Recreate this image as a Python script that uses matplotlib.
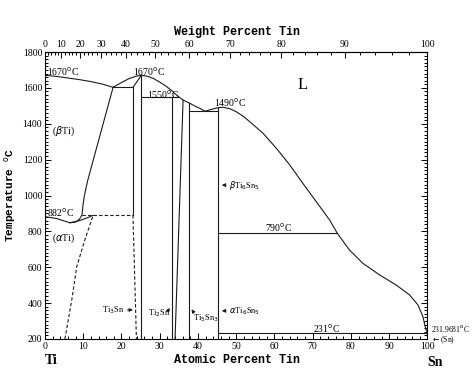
import numpy as np
import matplotlib
matplotlib.use('Agg')
import matplotlib.pyplot as plt

# Ti-Sn phase diagram, atomic percent Sn vs temperature (C)
liq_left_x = [0, 3, 6, 9, 12, 15, 17.8]
liq_left_T = [1670, 1664, 1655, 1646, 1635, 1621, 1603]

liq_x = [17.8, 20, 22, 24, 25.2, 26.8, 28.3, 30, 31.8, 33.2, 34.4, 36.1, 37.9, 39.2, 40.5,
         41.8, 43.5, 45.3, 46.5, 48.3, 50.0, 51.8, 53.5, 57.0, 60.5, 64.0, 67.4, 70.9,
         74.4, 76.4, 79.6, 83.1, 87.5, 91.8, 95.3, 97.5, 98.8, 99.5, 100]
liq_T = [1603, 1630, 1652, 1666, 1670, 1665, 1653, 1632, 1607, 1583, 1560, 1532, 1514, 1498,
         1486, 1470, 1480, 1490, 1492, 1484, 1467, 1442, 1412, 1347, 1263, 1170, 1068, 966,
         864, 790, 696, 622, 557, 501, 446, 390, 325, 260, 232]

beta_x = [0, 3, 5, 6.5, 8, 9, 9.7, 9.9, 10.3, 11.2, 17.8]
beta_T = [882, 872, 858, 848, 852, 868, 893, 940, 1000, 1087, 1603]

alpha_x = [6.5, 9, 11, 12.6]
alpha_T = [848, 860, 875, 890]

alpha_dash_x = [5.2, 7.0, 8.3, 10.4, 12.6]
alpha_dash_T = [200, 418, 603, 752, 890]

ti3sn_x = [23.0, 25.2]
ti2sn_left = 33.2
ti2sn_right_x = [36.1, 34.0]
ti2sn_right_T = [1532, 200]
ti5sn3_x = 37.7
ti6sn5_x = 45.3

T_peri1 = 1603
T_eutd = 890
T_peri2 = 1550
T_eut = 1470
T_top65 = 1490
T_790 = 790
T_231 = 231

wt_ticks = np.arange(0, 101, 10)

M_SN = 118.71
M_TI = 47.867


def at2wt(a):
    a = np.asarray(a, dtype=float)
    return 100 * a * M_SN / (a * M_SN + (100 - a) * M_TI)


def wt2at(w):
    w = np.asarray(w, dtype=float)
    return 100 * (w / M_SN) / (w / M_SN + (100 - w) / M_TI)


lc = '#1a1a1a'
lw = 0.8
serif = 'Liberation Serif'
mono = 'Liberation Mono'

fig = plt.figure(figsize=(4.74, 3.72), dpi=100)
ax = fig.add_axes([45/474, 1 - 339/372, 382.5/474, 287/372])

# liquidus
ax.plot(liq_left_x, liq_left_T, color=lc, lw=lw)
ax.plot(liq_x, liq_T, color=lc, lw=lw)

# beta / alpha Ti boundaries
ax.plot(beta_x, beta_T, color=lc, lw=lw)
ax.plot(alpha_x, alpha_T, color=lc, lw=lw)
ax.plot(alpha_dash_x, alpha_dash_T, color=lc, lw=lw, ls=(0, (3, 2)))

# Ti3Sn
ax.plot([liq_left_x[-1], ti3sn_x[0]], [T_peri1, T_peri1], color=lc, lw=lw)
ax.plot([ti3sn_x[0], ti3sn_x[1]], [T_peri1, 1670], color=lc, lw=lw)
ax.plot([ti3sn_x[0], ti3sn_x[0]], [T_peri1, T_eutd], color=lc, lw=lw)
ax.plot([9.7, ti3sn_x[0]], [T_eutd, T_eutd], color=lc, lw=lw, ls=(0, (3, 2)))
ax.plot([ti3sn_x[0], 23.9], [T_eutd, 200], color=lc, lw=lw, ls=(0, (3, 2)))
ax.plot([ti3sn_x[1], ti3sn_x[1]], [1670, 200], color=lc, lw=lw)

# Ti2Sn
ax.plot([ti3sn_x[1], 34.9], [T_peri2, T_peri2], color=lc, lw=lw)
ax.plot([ti2sn_left, ti2sn_left], [T_peri2, 200], color=lc, lw=lw)
ax.plot(ti2sn_right_x, ti2sn_right_T, color=lc, lw=lw)

# Ti5Sn3, Ti6Sn5
ax.plot([ti5sn3_x, ti5sn3_x], [1516, 200], color=lc, lw=lw)
ax.plot([ti5sn3_x, ti6sn5_x], [T_eut, T_eut], color=lc, lw=lw)
ax.plot([ti6sn5_x, ti6sn5_x], [T_top65, 200], color=lc, lw=lw)
ax.plot([ti6sn5_x, 76.4], [T_790, T_790], color=lc, lw=lw)
ax.plot([ti6sn5_x, 100], [T_231, T_231], color=lc, lw=lw)

ax.set_xlim(0, 100)
ax.set_ylim(200, 1800)

ax.set_xticks(np.arange(0, 101, 10))
ax.set_xticks(np.arange(0, 101, 2), minor=True)
ax.set_yticks(np.arange(200, 1801, 200))
ax.set_yticks(np.arange(200, 1801, 20), minor=True)
ax.tick_params(which='both', direction='in', right=True, labelsize=7, width=0.7, pad=2)
ax.tick_params(which='major', length=4)
ax.tick_params(which='minor', length=2)
for lab in ax.get_xticklabels() + ax.get_yticklabels():
    lab.set_family(serif)
for s in ax.spines.values():
    s.set_linewidth(0.8)

sec = ax.secondary_xaxis('top', functions=(at2wt, wt2at))
sec.set_xticks(wt_ticks)
sec.set_xticks(np.arange(0, 101, 2), minor=True)
sec.tick_params(which='both', direction='in', labelsize=7, width=0.7, pad=2)
sec.tick_params(which='major', length=4)
sec.tick_params(which='minor', length=2)
for lab in sec.get_xticklabels():
    lab.set_family(serif)

fig.text(237/474, 1 - 32/372, 'Weight Percent Tin', ha='center', va='center',
         family=mono, fontweight='bold', fontsize=8.5)
fig.text(237/474, 1 - 360/372, 'Atomic Percent Tin', ha='center', va='center',
         family=mono, fontweight='bold', fontsize=8.5)
fig.text(10/474, 1 - 195/372, r'Temperature $^{\mathrm{o}}$C', rotation=90, ha='center',
         va='center', family=mono, fontweight='bold', fontsize=8)
fig.text(45/474, 1 - 360/372, 'Ti', ha='left', va='center', family=serif,
         fontweight='bold', fontsize=10)
fig.text(427/474, 1 - 362/372, 'Sn', ha='left', va='center', family=serif,
         fontweight='bold', fontsize=10)

deg = r'$^{\mathrm{o}}$C'
tk = dict(family=serif, fontsize=7, va='center', ha='left')
ax.text(0.5, 1689, '1670' + deg, **tk)
ax.text(23.0, 1689, '1670' + deg, **tk)
ax.text(26.6, 1560, '1550' + deg, **tk)
ax.text(44.1, 1516, '1490' + deg, **tk)
ax.text(66, 1616, 'L', family=serif, fontsize=12, va='center', ha='left')
ax.text(1.8, 1360, r'($\beta$Ti)', **tk)
ax.text(0.5, 903, '882' + deg, **tk)
ax.text(1.8, 763, r'($\alpha$Ti)', **tk)
ax.text(57.4, 819, '790' + deg, **tk)
ax.text(70.0, 256, '231' + deg, **tk)
ax.text(101, 256, '231.9681' + deg, clip_on=False, family=serif, fontsize=5.5,
        va='center', ha='left')
ax.text(101, 196, r'$\leftarrow$(Sn)', clip_on=False, family=serif, fontsize=5.5,
        va='center', ha='left')

ap = dict(arrowstyle='-|>', color=lc, lw=0.7, mutation_scale=5)
sk = dict(family=serif, fontsize=6, va='center')
ax.annotate('', xy=(23.7, 362), xytext=(20.8, 362), arrowprops=ap)
ax.text(20.6, 362, r'Ti$_3$Sn', ha='right', **sk)
ax.annotate('', xy=(33.1, 385), xytext=(31.7, 345), arrowprops=ap)
ax.text(27.0, 345, r'Ti$_2$Sn', ha='left', **sk)
ax.annotate('', xy=(37.9, 378), xytext=(39.3, 335), arrowprops=ap)
ax.text(38.8, 318, r'Ti$_5$Sn$_3$', ha='left', **sk)
ax.annotate('', xy=(45.5, 357), xytext=(48.0, 357), arrowprops=ap)
ax.text(48.2, 357, r'$\alpha$Ti$_6$Sn$_5$', ha='left', **sk)
ax.annotate('', xy=(45.5, 1058), xytext=(48.0, 1058), arrowprops=ap)
ax.text(48.2, 1058, r'$\beta$Ti$_6$Sn$_5$', ha='left', **sk)

fig.savefig('out.png', dpi=100)
